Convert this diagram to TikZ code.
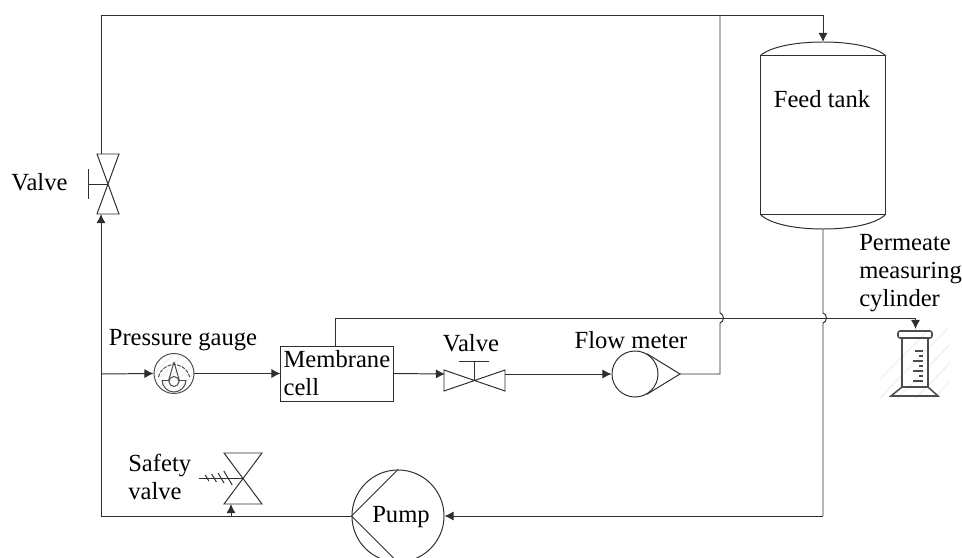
\documentclass[tikz,border=0pt]{standalone}
\usepackage{fontspec}
\setmainfont{Liberation Serif}
\usetikzlibrary{arrows.meta}
\tikzset{
  pipe/.style={line width=0.7pt,draw=black!82},
  flow/.style={pipe,-{Latex[length=6.5pt,width=6.5pt]}},
  lbl/.style={font=\fontsize{17.5}{20}\selectfont,inner sep=0pt,align=left},
  ring/.style={circle,pipe,inner sep=0pt},
  faint/.style={line width=1.2pt,draw=black!5},
  icon/.style={line width=0.7pt,draw=black!70}
}
\begin{document}
\begin{tikzpicture}[x=0.025cm,y=-0.025cm]
    \clip (0,0) rectangle (962,558);
    % tank
    \node (tank) at (823,135) [pipe,draw,minimum width=3.1cm,minimum height=3.95cm,inner sep=0pt] {};
    \draw [pipe] (tank.north west) .. controls (770,47) and (795,42) .. (823,42)
                 .. controls (851,42) and (876,47) .. (tank.north east);
    \draw [pipe] (tank.south west) .. controls (770,224) and (795,229) .. (823,229)
                 .. controls (851,229) and (876,224) .. (tank.south east);
    \coordinate (tanktop) at (823,42);
    \coordinate (tankout) at (823,229);
    % membrane, pump, flow meter, gauge
    \node (cell) at (337,373.5) [lbl,pipe,draw,minimum width=2.8cm,minimum height=1.375cm,text width=2.67cm] {Membrane\\cell};
    \node (pump) at (398,516) [ring,draw,minimum size=2.3cm] {};
    \node (flow) at (635,374) [ring,draw,minimum size=1.15cm] {};
    \node (gauge) at (174,373.5) [ring,icon,draw,minimum size=1cm] {};
    \coordinate (flowtip) at (680,374);
    \draw [pipe] (flow.60) -- (flowtip) -- (flow.-60);
    \draw [pipe] (pump.north) -- (pump.west) -- (pump.south);
    % valve on the return line
    \coordinate (topin) at (101,154);
    \coordinate (topout) at (101,214);
    \draw [pipe] (97,154) -- (119,154) -- (97,214) -- (119,214) -- cycle;
    \draw [pipe] (88,169) -- (88,199);
    \draw [pipe] (88,184) -- (108,184);
    % valve after the cell
    \coordinate (midin) at (445,374);
    \coordinate (midout) at (505,374);
    \draw [pipe] (444,370) -- (505,391) -- (505,370) -- (444,391) -- cycle;
    \draw [pipe] (474,380) -- (474,361);
    \draw [pipe] (459,361) -- (489,361);
    % safety valve
    \coordinate (safein) at (231,504);
    \coordinate (safefoot) at (231,516);
    \draw [pipe] (224,453) -- (262,453) -- (224,504) -- (262,504) -- cycle;
    \draw [pipe] (199,478) -- (243,478);
    \foreach \a/\b in {207/3,214/4,221/5,228/7}
        \draw [pipe] (\a-\b*0.6,478-\b) -- (\a+\b*0.6,478+\b);
    % gauge face
    \begin{scope}
        \clip (174,373.5) circle [radius=19];
        \foreach \d in {-30,-20,...,30}
            \draw [faint] (174+\d-20,393.5) -- (174+\d+20,353.5);
    \end{scope}
    \draw [icon,dash pattern=on 2.6pt off 0.9pt] (158.5,377) arc [start angle=193,end angle=347,radius=16];
    \draw [icon] (162,380) arc [start angle=180,end angle=0,radius=12];
    \draw [icon] (162,380) -- (168,380) (180,380) -- (186,380);
    \draw [icon] (174,362) -- (168.5,381) (174,362) -- (179.5,381);
    \draw [icon,fill=white] (174,381.5) circle [radius=5];
    % cylinder
    \begin{scope}
        \clip (880,328) rectangle (950,398);
        \foreach \d in {0,18,...,108}
            \draw [faint] (860+\d,400) -- (860+\d+70,328);
    \end{scope}
    \coordinate (cylin) at (915.5,329);
    \draw [icon,rounded corners=1.5pt,line width=1.1pt] (898,331) rectangle (932,338);
    \draw [icon,line width=1.1pt] (902,338) -- (902,387) (928,338) -- (928,387);
    \draw [icon,line width=1.1pt] (902,387) -- (928,387) -- (938,396) -- (891,396) -- cycle;
    \foreach \h/\w in {351/915,356/919,361/913,366/919,371/913,376/919,381/913}
        \draw [icon,line width=1.1pt] (\w,\h) -- (923,\h);
    % lines
    \draw [pipe] (topin) -- (101,15) -- (823,15);
    \draw [flow] (823,15) -- (tanktop);
    \coordinate (pumpfoot) at (101,516);
    \draw [pipe] (pump.west) -- (pumpfoot);
    \draw [flow] (pumpfoot) -- (topout);
    \draw [flow] (safefoot) -- (safein);
    \coordinate (gaugefoot) at (101,374);
    \draw [flow] (gaugefoot) -- (gauge.west);
    \draw [flow] (gauge.east) -- (cell.west);
    \draw [flow] (cell.east) -- (midin);
    \draw [flow] (midout) -- (flow.west);
    % jumps over the permeate line
    \draw [pipe] (flowtip) -- (720,374) -- (720,323) .. controls (724.5,322) and (724.5,314) .. (720,313) -- (720,15);
    \draw [pipe] (tankout) -- (823,313) .. controls (827.5,314) and (827.5,322) .. (823,323) -- (823,516);
    \draw [flow] (823,516) -- (pump.east);
    % permeate line
    \coordinate (cellout) at (335,346);
    \coordinate (permbend) at (915.5,318);
    \draw [pipe] (cellout) |- (permbend);
    \draw [flow] (permbend) -- (cylin);
    % label
    \node (lblfeed) at (822,99) [lbl] {Feed tank};
    \node (lblperm) at (859,273) [lbl,anchor=west] {Permeate\\measuring\\cylinder};
    \node (lblvalvea) at (39.5,182) [lbl] {Valve};
    \node (lblgauge) at (183,340) [lbl] {Pressure gauge};
    \node (lblvalveb) at (471,343) [lbl] {Valve};
    \node (lblflow) at (631,340) [lbl] {Flow meter};
    \node (lblsafe) at (128,477) [lbl,anchor=west] {Safety\\valve};
    \node (lblpump) at (401,517) [lbl] {Pump};
\end{tikzpicture}
\end{document}
